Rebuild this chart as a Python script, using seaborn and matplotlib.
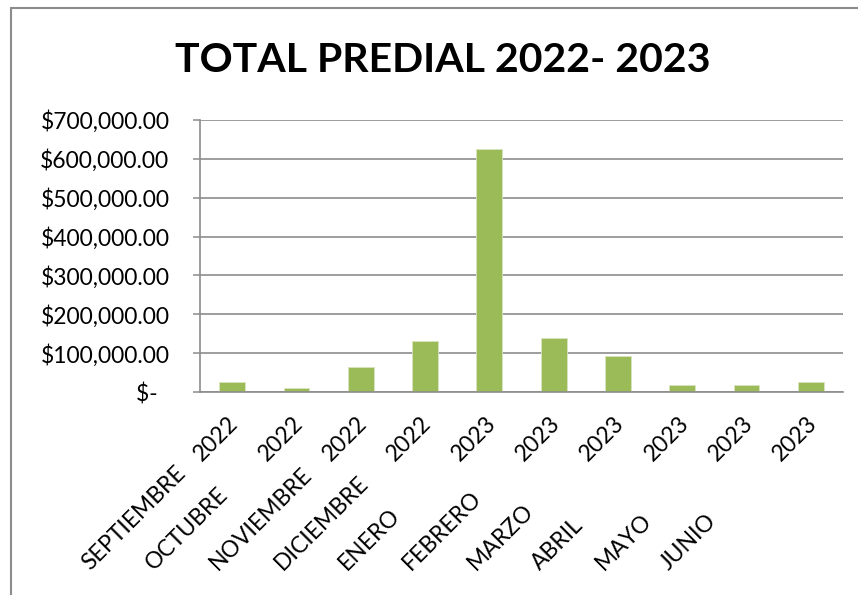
import matplotlib
matplotlib.use("Agg")
import matplotlib.pyplot as plt
import matplotlib.transforms as mtransforms
from matplotlib.ticker import FuncFormatter
import seaborn as sns
import pandas as pd

months = ["SEPTIEMBRE", "OCTUBRE", "NOVIEMBRE", "DICIEMBRE", "ENERO",
          "FEBRERO", "MARZO", "ABRIL", "MAYO", "JUNIO"]
years = ["2022", "2022", "2022", "2022", "2023",
         "2023", "2023", "2023", "2023", "2023"]
totals = [25000, 10000, 64000, 132000, 625000,
          140000, 92000, 19000, 18000, 27000]
yticks = [0, 100000, 200000, 300000, 400000, 500000, 600000, 700000]
title = "TOTAL PREDIAL 2022- 2023"

sns.set_theme(style="white")
plt.rcParams['font.family'] = ['Lato', 'DejaVu Sans']

df = pd.DataFrame({"cat": [f"{m} {y}" for m, y in zip(months, years)],
                   "total": totals})

fig = plt.figure(figsize=(8.58, 5.95), dpi=100)
ax = fig.add_axes([200/858, 1-392/595, 643/858, 272/595])

sns.barplot(data=df, x="cat", y="total", color="#9BBB59", width=0.4,
            edgecolor="#D7E4BD", linewidth=0.6, saturation=1, ax=ax)

ax.set_ylim(0, 700000)
ax.set_xlim(-0.5, len(months) - 0.5)
ax.set_yticks(yticks)

def fmt(v, pos):
    if v == 0:
        return "$-  "
    return "${:,.2f}".format(v)
ax.yaxis.set_major_formatter(FuncFormatter(fmt))
ax.tick_params(axis="y", length=5, width=1.1, color="#8C8C8C", pad=17,
               labelsize=16.5, labelcolor="black", left=True, direction="out")
ax.tick_params(axis="x", length=0, labelbottom=False)
ax.set_xlabel("")
ax.set_ylabel("")
ax.grid(axis="y", color="#8C8C8C", linewidth=1.2)
ax.set_axisbelow(True)
for s in ["top", "right"]:
    ax.spines[s].set_visible(False)
for s in ["left", "bottom"]:
    ax.spines[s].set_color("#8C8C8C")
    ax.spines[s].set_linewidth(1.2)

# category labels: year right-aligned near the axis, month further down the diagonal
base = mtransforms.blended_transform_factory(ax.transData, ax.transAxes)
for i, (m, y) in enumerate(zip(months, years)):
    t_year = base + mtransforms.ScaledTranslation(0.03, -0.28, fig.dpi_scale_trans)
    ax.text(i, 0, y, transform=t_year, rotation=45, rotation_mode="anchor",
            ha="right", va="center", fontsize=16.5, color="black")
    t_month = base + mtransforms.ScaledTranslation(-1.47, -1.74, fig.dpi_scale_trans)
    ax.text(i, 0, m, transform=t_month, rotation=45, rotation_mode="anchor",
            ha="left", va="center", fontsize=16.5, color="black")

fig.text(443/858, 1-60/595, title, ha="center", va="center",
         fontsize=29.5, fontweight="bold", color="black")

# chart area border
fig.add_artist(plt.Line2D([11/858, 11/858], [0, 1-8/595], transform=fig.transFigure,
                          color="#8C8C8C", linewidth=1.5))
fig.add_artist(plt.Line2D([11/858, 1], [1-8/595, 1-8/595], transform=fig.transFigure,
                          color="#8C8C8C", linewidth=1.5))

fig.savefig("out.png", dpi=100)
